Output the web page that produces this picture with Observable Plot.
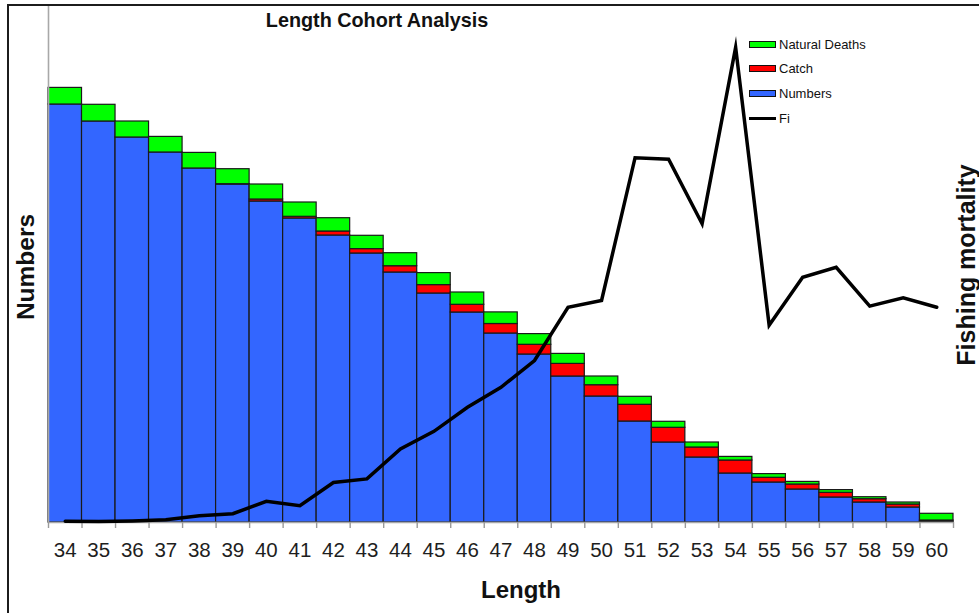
<!DOCTYPE html>
<html>
<head>
<meta charset="utf-8">
<script src="https://cdn.jsdelivr.net/npm/d3@7"></script>
<script src="https://cdn.jsdelivr.net/npm/@observablehq/plot@0.6"></script>
<style>
  html, body { margin: 0; padding: 0; background: #fff; }
  #wrap { position: relative; width: 979px; height: 613px; overflow: hidden; font-family: "Liberation Sans", Arial, sans-serif; }
  #wrap svg { position: absolute; left: 0; top: 0; }
  .frame { position: absolute; left: 7px; top: 4px; width: 1200px; height: 900px; border: 2px solid #1c1c1c; box-sizing: border-box; }
  .lbl { position: absolute; line-height: 1; white-space: nowrap; font-weight: bold; color: #111; transform: translate(-50%, -50%); }
  .legend { position: absolute; left: 749px; top: 36px; font-size: 13px; color: #111; }
  .legend .row { position: absolute; left: 0; height: 16px; display: flex; align-items: center; white-space: nowrap; }
  .legend .sw { width: 25px; height: 5px; border: 1px solid #111; margin-right: 3px; }
  .legend .ln { width: 27px; height: 3.5px; background: #000; margin-right: 3px; }
</style>
</head>
<body>
<div id="wrap">
  <div class="frame"></div>
</div>
<script>
// ---- data ----
const lengths = [34,35,36,37,38,39,40,41,42,43,44,45,46,47,48,49,50,51,52,53,54,55,56,57,58,59,60];
const numbers = [4180,4010,3850,3700,3540,3380,3210,3040,2870,2690,2500,2290,2100,1890,1680,1460,1260,1010,800,650,490,400,330,250,200,150,10];
const catchN  = [0,0,0,0,0,3,20,17,40,44,63,84,77,95,97,126,113,167,147,100,130,47,50,47,33,30,10];
const naturalDeaths = [166,167,160,156,156,150,150,143,133,133,130,120,123,116,107,100,87,80,60,50,36,37,26,27,20,20,67];
const fi = [0.003,0.0025,0.004,0.007,0.017,0.022,0.053,0.042,0.100,0.109,0.184,0.228,0.288,0.338,0.405,0.538,0.555,0.912,0.908,0.747,1.188,0.493,0.613,0.638,0.541,0.562,0.538];
const seriesNames = ["Numbers", "Catch", "Natural Deaths"];
const seriesColors = ["#3366FF", "#FF0000", "#00FF00"];
const NMAX = 5160;   // top of the Numbers axis
const FIMAX = 1.29;  // top of the Fishing mortality axis

// ---- build tables ----
const stacked = lengths.flatMap((L, i) => [
  {L, type: "Numbers", value: numbers[i]},
  {L, type: "Catch", value: catchN[i]},
  {L, type: "Natural Deaths", value: naturalDeaths[i]}
]);
const fiData = lengths.map((L, i) => ({L, Fi: fi[i]}));
const boundaries = [...lengths.map(L => L - 0.5), lengths[lengths.length - 1] + 0.5];

const chart = Plot.plot({
  width: 979,
  height: 613,
  marginLeft: 48,
  marginRight: 26,
  marginTop: 6,
  marginBottom: 91,
  style: {fontFamily: "'Liberation Sans', Arial, sans-serif", background: "transparent"},
  x: {type: "linear", domain: [lengths[0] - 0.5, lengths[lengths.length - 1] + 0.5], label: null},
  y: {domain: [0, NMAX], axis: null, label: null},
  color: {domain: seriesNames, range: seriesColors},
  marks: [
    Plot.rectY(stacked, Plot.stackY({
      x1: d => d.L - 0.5, x2: d => d.L + 0.5, y: "value", fill: "type",
      stroke: "#1a1a1a", strokeWidth: 1.2, order: seriesNames
    })),
    Plot.ruleX([lengths[0] - 0.5], {stroke: "#a8a8a8", strokeWidth: 1.6}),
    Plot.ruleY([0], {stroke: "#a8a8a8", strokeWidth: 1.6}),
    Plot.axisX({ticks: boundaries, tickFormat: () => "", tickSize: 6, color: "#9a9a9a", strokeWidth: 1.4, label: null}),
    Plot.axisX({ticks: lengths, tickFormat: d => String(d), tickSize: 0, tickPadding: 20, fontSize: 20.5, color: "#1e1e1e", label: null}),
    Plot.line(fiData, {x: "L", y: d => d.Fi * NMAX / FIMAX, stroke: "#000", strokeWidth: 3.5, strokeLinejoin: "miter", strokeMiterlimit: 10})
  ]
});
const wrap = document.getElementById("wrap");
wrap.appendChild(chart);

function addLabel(text, x, y, size, rot) {
  const d = document.createElement("div");
  d.className = "lbl";
  d.textContent = text;
  d.style.left = x + "px";
  d.style.top = y + "px";
  d.style.fontSize = size + "px";
  if (rot) d.style.transform = "translate(-50%, -50%) rotate(-90deg)";
  wrap.appendChild(d);
}
addLabel("Length Cohort Analysis", 377, 21, 19.8, false);
addLabel("Numbers", 26, 267, 24.5, true);
addLabel("Length", 521, 590, 24, false);
addLabel("Fishing mortality", 966, 265, 25, true);

// legend
const legendItems = [
  {name: "Natural Deaths", color: "#00FF00", kind: "sw"},
  {name: "Catch", color: "#FF0000", kind: "sw"},
  {name: "Numbers", color: "#3366FF", kind: "sw"},
  {name: "Fi", color: "#000", kind: "ln"}
];
const leg = document.createElement("div");
leg.className = "legend";
legendItems.forEach((it, i) => {
  const row = document.createElement("div");
  row.className = "row";
  row.style.top = (i * 24.8) + "px";
  const sw = document.createElement("div");
  sw.className = it.kind;
  if (it.kind === "sw") sw.style.background = it.color;
  row.appendChild(sw);
  const t = document.createElement("span");
  t.textContent = it.name;
  row.appendChild(t);
  leg.appendChild(row);
});
wrap.appendChild(leg);
</script>
</body>
</html>
